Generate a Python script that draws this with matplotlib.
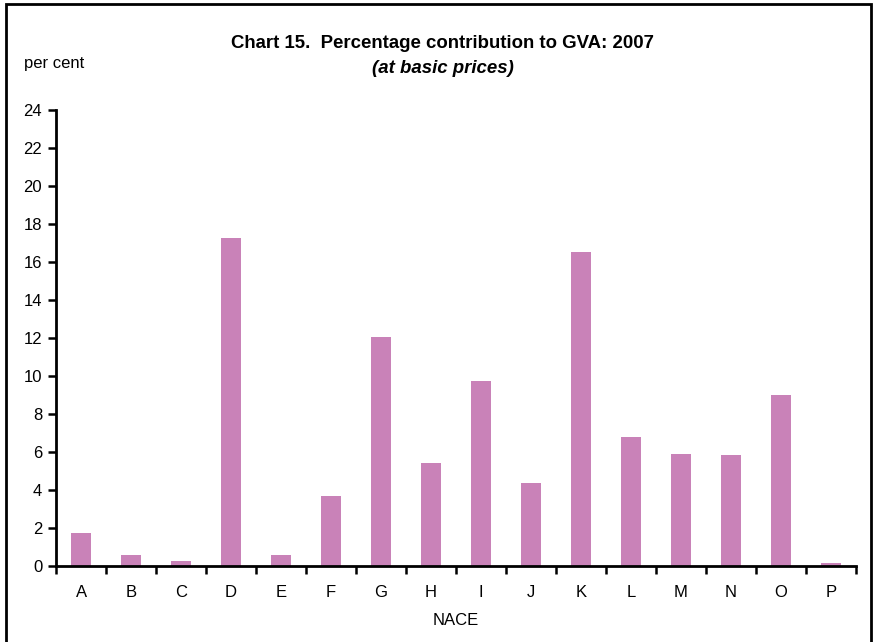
import matplotlib.pyplot as plt
import numpy as np
from matplotlib.patches import Rectangle

plt.rcParams['font.family'] = ['Liberation Sans', 'DejaVu Sans']

# NACE sections and their share of GVA (per cent)
sections = ['A', 'B', 'C', 'D', 'E', 'F', 'G', 'H', 'I', 'J', 'K', 'L', 'M', 'N', 'O', 'P']
share = [1.74, 0.58, 0.26, 17.26, 0.58, 3.68, 12.05, 5.42, 9.74, 4.37, 16.53, 6.79, 5.89, 5.84, 9.0, 0.16]
yticks = list(range(0, 25, 2))

fig = plt.figure(figsize=(8.77, 6.42), dpi=100)
ax = fig.add_axes([0.0639, 0.1184, 0.976 - 0.0639, 0.8287 - 0.1184])

x = np.arange(len(sections))
ax.bar(x, share, width=0.4, color='#C982B8')

ax.set_xlim(-0.5, len(sections) - 0.5)
ax.set_ylim(0, 24)
ax.set_yticks(yticks)
ax.set_xticks(x)
ax.set_xticklabels(sections)
ax.set_xticks(np.arange(len(sections) + 1) - 0.5, minor=True)
ax.tick_params(axis='x', which='major', length=0, pad=14, labelsize=12)
ax.tick_params(axis='x', which='minor', length=6, width=1.8, direction='out')
ax.tick_params(axis='y', length=6, width=1.8, direction='out', labelsize=12, pad=4)

for s in ['top', 'right']:
    ax.spines[s].set_visible(False)
for s in ['left', 'bottom']:
    ax.spines[s].set_linewidth(2)

ax.set_xlabel('NACE', fontsize=12, labelpad=9)

fig.text(0.505, 0.932, 'Chart 15.  Percentage contribution to GVA: 2007',
         ha='center', va='center', fontsize=13.4, fontweight='bold')
fig.text(0.505, 0.893, '(at basic prices)', ha='center', va='center',
         fontsize=13.4, fontweight='bold', style='italic')
fig.text(0.027, 0.901, 'per cent', ha='left', va='center', fontsize=12)

# frame around the whole chart
fig.patches.append(Rectangle((0.007, -0.05), 0.986, 1.043, transform=fig.transFigure,
                             fill=False, edgecolor='black', linewidth=2))

fig.savefig('out.png', dpi=100)
